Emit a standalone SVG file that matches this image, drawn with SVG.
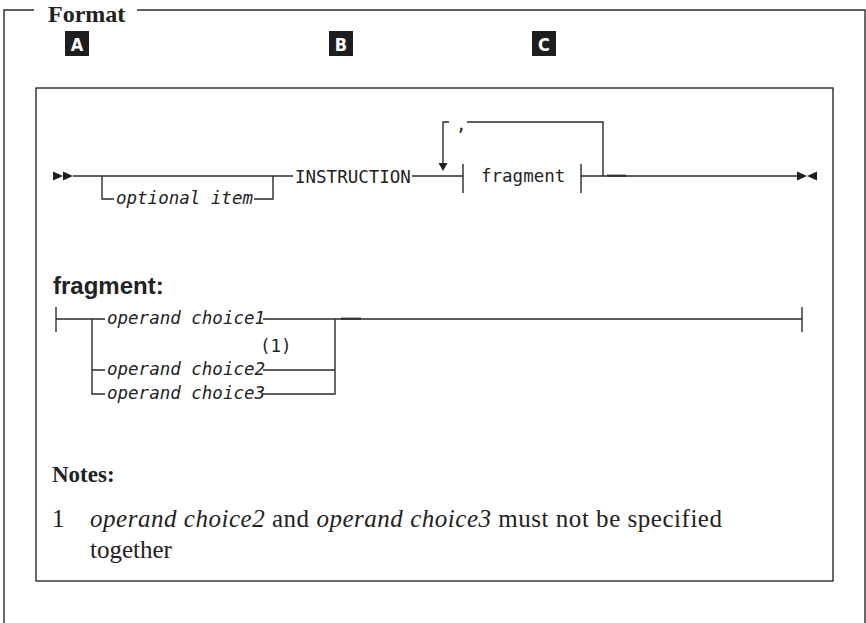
<svg xmlns="http://www.w3.org/2000/svg" width="866" height="623" viewBox="0 0 866 623">
<style>
.ln{fill:none;stroke:#2a2a2a;stroke-width:1.4}
.dash{fill:none;stroke:#333;stroke-width:2.2}
.mono{font-family:"DejaVu Sans Mono","Liberation Mono",monospace;font-size:17.5px;fill:#222}
.it{font-style:italic}
.serif{font-family:"Liberation Serif","DejaVu Serif",serif;fill:#222}
.badge rect{fill:#1e1e1e}
.badge text{font-family:"DejaVu Sans Condensed","DejaVu Sans",sans-serif;font-weight:bold;font-size:18px;fill:#fff;text-anchor:middle}
.mk{fill:#1e1e1e}
</style>
<rect width="866" height="623" fill="#fff"/>
<g id="frame">
<path class="ln" d="M4,623 V10 H34 M137,10 H865 V623"/>
<text class="serif" x="48" y="22" font-size="24" font-weight="bold">Format</text>
</g>
<g id="badgeA" class="badge"><rect x="65" y="31" width="24" height="25"/><text x="77" y="50.5">A</text></g>
<g id="badgeB" class="badge"><rect x="329" y="31" width="24" height="25"/><text x="341" y="50.5">B</text></g>
<g id="badgeC" class="badge"><rect x="532" y="31" width="24" height="25"/><text x="544" y="50.5">C</text></g>
<g id="box"><rect class="ln" x="36" y="88" width="797" height="493"/></g>
<g id="connectors">
<polygon class="mk" points="53,171.5 63,176 53,180.5"/>
<polygon class="mk" points="63,171.5 73,176 63,180.5"/>
<path class="ln" d="M73,176 H293"/>
<path class="ln" d="M102,176 V199 H114 M254,199 H273 V176"/>
<path class="ln" d="M412,176 H463 M463,164 V193"/>
<path class="ln" d="M443,164 V122 H449 M467,122 H603 V176"/>
<polygon class="mk" points="438.5,163 447.5,163 443,171"/>
<path class="ln" d="M581,164 V193 M581,176 H797"/>
<path class="dash" d="M607,175.7 H626"/>
<polygon class="mk" points="797,171.5 807,176 797,180.5"/>
<polygon class="mk" points="817,171.5 807,176 817,180.5"/>
<path class="ln" d="M56,307 V332 M56,319 H105 M92,319 V394 H105 M92,370 H105"/>
<path class="ln" d="M263,319 H802 M263,370 H335 M263,394 H335 V319 M802,307 V332"/>
<path class="dash" d="M341,318.7 H361"/>
</g>
<g id="main-texts">
<text class="mono it" x="116" y="204">optional item</text>
<text class="mono" x="295" y="183">INSTRUCTION</text>
<text class="mono" x="456" y="131">,</text>
<text class="mono" x="481" y="182">fragment</text>
</g>
<g id="fragment">
<text x="53" y="294" font-family="'Liberation Sans',Arial,sans-serif" font-weight="bold" font-size="24" fill="#222">fragment:</text>
<text class="mono it" x="107" y="324">operand choice1</text>
<text class="mono" x="260" y="352">(1)</text>
<text class="mono it" x="107" y="375">operand choice2</text>
<text class="mono it" x="107" y="399">operand choice3</text>
</g>
<g id="notes">
<text class="serif" x="52" y="482" font-size="23" font-weight="bold">Notes:</text>
<text class="serif" x="52" y="527" font-size="25">1</text>
<text class="serif" x="90" y="527" font-size="25" textLength="632" lengthAdjust="spacing"><tspan font-style="italic">operand choice2</tspan> and <tspan font-style="italic">operand choice3</tspan> must not be specified</text>
<text class="serif" x="90" y="558" font-size="25">together</text>
</g>
</svg>
